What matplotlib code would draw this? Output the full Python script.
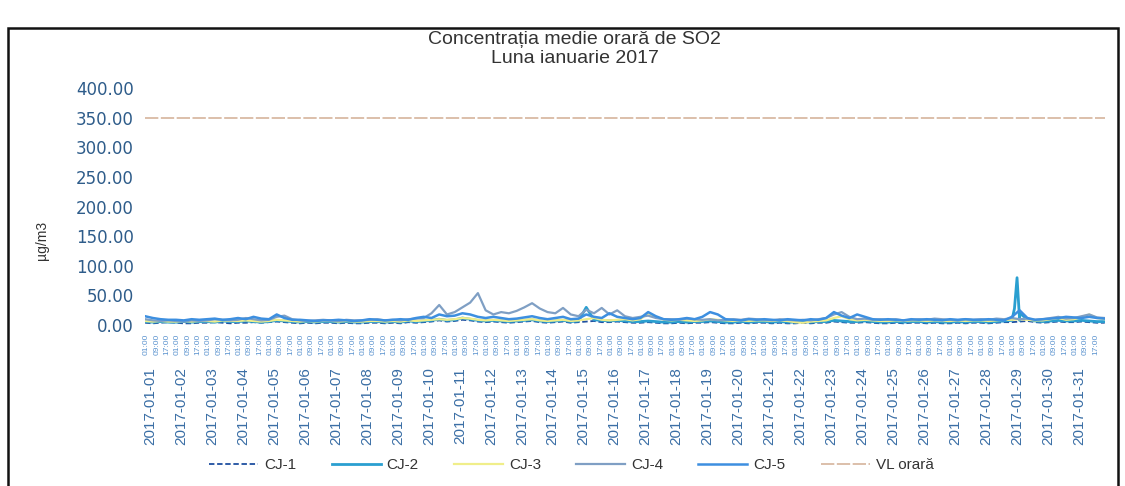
import numpy as np
import matplotlib
matplotlib.use("Agg")
import matplotlib.pyplot as plt
from matplotlib.patches import Rectangle

plt.rcParams['font.family'] = ['Liberation Sans', 'DejaVu Sans']

title = "Concentrația medie orară de SO2\nLuna ianuarie 2017"
y_label = "µg/m3"
days = [f"2017-01-{d:02d}" for d in range(1, 32)]
y_ticks = [0, 50, 100, 150, 200, 250, 300, 350, 400]

# values read every 6 hours (00, 06, 12, 18 of each day) + final point
cj1 = [4,3,4,5, 4,3,3,4, 4,5,4,3, 4,4,5,4, 5,6,5,4, 3,4,3,4, 4,3,4,3, 3,4,4,3,
       4,3,5,4, 5,6,8,6, 7,9,8,6, 5,6,5,4, 5,6,7,5, 4,5,6,4, 5,6,7,5, 5,6,5,4,
       4,5,4,3, 3,4,3,4, 4,5,4,3, 3,4,3,4, 4,3,4,3, 3,4,3,4, 4,6,5,4, 4,5,4,3,
       3,4,3,4, 4,3,4,3, 3,4,3,4, 4,3,4,5, 5,6,7,5, 4,5,6,5, 5,6,5,4, 4]
cj2 = [6,5,6,5, 5,6,5,6, 6,5,7,6, 6,7,6,5, 6,8,7,6, 5,6,5,6, 6,5,6,5, 5,6,6,5,
       6,5,7,6, 7,8,10,8, 9,12,10,8, 7,8,7,6, 7,8,9,7, 6,7,8,6, 7,30,9,8, 7,8,7,6,
       6,7,6,5, 5,6,5,6, 6,7,6,5, 5,6,5,6, 6,5,6,5, 5,6,5,6, 6,8,7,6, 6,7,6,5,
       5,6,5,6, 6,5,6,5, 5,6,5,6, 6,5,6,7, 8,8,10,7, 6,7,8,7, 7,8,7,6, 6]
cj2_spike_hours = [674, 676, 678]
cj2_spike_vals = [28, 80, 20]
cj3 = [7,6,7,6, 6,7,6,7, 7,6,8,7, 7,8,7,6, 7,9,8,7, 6,7,6,7, 7,6,7,6, 6,7,7,6,
       7,6,8,7, 8,9,10,9, 10,12,11,9, 8,9,8,7, 8,9,10,8, 7,8,9,7, 8,10,12,9, 8,9,10,8,
       10,20,14,9, 8,9,8,7, 8,10,9,8, 7,8,7,8, 8,7,8,7, 5,4,6,7, 8,12,15,10, 8,9,8,7,
       7,8,7,8, 8,7,8,7, 7,8,7,8, 8,7,8,9, 9,10,9,8, 8,10,12,9, 10,14,18,12, 10]
cj4 = [10,8,7,8, 7,6,8,7, 8,10,9,8, 9,12,10,8, 9,14,16,10, 8,7,8,9, 8,7,9,8, 8,9,10,8,
       9,8,10,11, 12,20,34,18, 22,30,38,54, 25,18,22,20, 24,30,37,28, 22,20,29,18,
       15,26,20,29, 18,25,15,12, 14,16,12,10, 10,9,11,10, 9,10,8,9, 10,9,11,10,
       9,8,10,9, 8,9,8,10, 12,18,22,14, 10,11,9,10, 9,10,8,9, 10,9,11,10, 9,8,10,9,
       10,9,11,10, 12,10,11,9, 10,12,14,11, 12,15,18,13, 12]
cj5 = [15,12,10,9, 9,8,10,9, 10,11,9,10, 12,10,14,11, 10,18,12,9, 9,8,7,8, 8,9,8,7,
       8,10,9,8, 9,10,9,12, 14,12,18,15, 16,20,18,14, 12,14,12,10, 11,13,15,12,
       10,12,14,10, 11,18,14,12, 20,14,12,10, 12,22,15,10, 9,10,12,10, 14,22,18,10,
       9,8,10,9, 10,9,8,10, 9,8,10,9, 12,22,16,12, 18,14,10,9, 10,9,8,10, 9,10,9,8,
       10,9,10,9, 9,10,9,8, 14,25,12,9, 10,11,12,14, 13,12,14,12, 11]
vl_value = 350

hours = np.arange(0, 745, 6)
h2 = np.concatenate([hours, cj2_spike_hours])
v2 = np.concatenate([cj2, cj2_spike_vals])
order = np.argsort(h2, kind="stable")
h2, v2 = h2[order], v2[order]

fig = plt.figure(figsize=(11.25, 4.86), dpi=100)
ax = fig.add_axes([0.129, 0.331, 0.853, 0.488])

l1, = ax.plot(hours, cj1, color='#1f4fa0', lw=1.3, ls=(0, (3, 1.5)), label='CJ-1')
l2, = ax.plot(h2, v2, color='#2a9fd0', lw=2.0, label='CJ-2')
l3, = ax.plot(hours, cj3, color='#f0ee8a', lw=1.6, label='CJ-3')
l4, = ax.plot(hours, cj4, color='#7f9fc4', lw=1.6, label='CJ-4')
l5, = ax.plot(hours, cj5, color='#3d8fe0', lw=1.8, label='CJ-5')
l6, = ax.plot([0, 744], [vl_value, vl_value], color='#d6b49c', lw=1.2,
              ls=(0, (8, 1.5)), label='VL orară')

ax.set_xlim(0, 744)
ax.set_ylim(0, 400)
ax.set_yticks(y_ticks)
ax.set_yticklabels([f"{v:.2f}" for v in y_ticks], fontsize=12,
                   color='#2e5c8a', family='DejaVu Sans')
for s in ax.spines.values():
    s.set_visible(False)

ax.set_xticks([d * 24 + 4 for d in range(31)])
ax.set_xticklabels(days, rotation=90, fontsize=11, color='#3a6ea5')
minor_hours = np.arange(1, 744, 8)
ax.set_xticks(minor_hours, minor=True)
ax.set_xticklabels([f"{h % 24:02d}:00" for h in minor_hours],
                   minor=True, rotation=90, fontsize=6, color='#5b93cf')
ax.tick_params(axis='x', which='major', length=0, pad=30)
ax.tick_params(axis='x', which='minor', length=0, pad=6)
ax.tick_params(axis='y', length=0, pad=8)

fig.text(0.511, 0.899, title, ha='center', va='center', fontsize=14,
         color='#333333', linespacing=1.15)
fig.text(0.037, 0.505, y_label, rotation=90, ha='center', va='center',
         fontsize=10, color='#333333')

fig.legend(handles=[l1, l2, l3, l4, l5, l6], loc='center',
           bbox_to_anchor=(0.508, 0.043), ncol=6, frameon=False, fontsize=11,
           handlelength=3.2, handletextpad=0.4, columnspacing=2.3,
           labelcolor='#333333')

fig.add_artist(Rectangle((0.007, -0.01), 0.987, 0.953, transform=fig.transFigure,
                         fill=False, edgecolor='#111111', lw=1.8))

fig.savefig("out.png", dpi=100)
